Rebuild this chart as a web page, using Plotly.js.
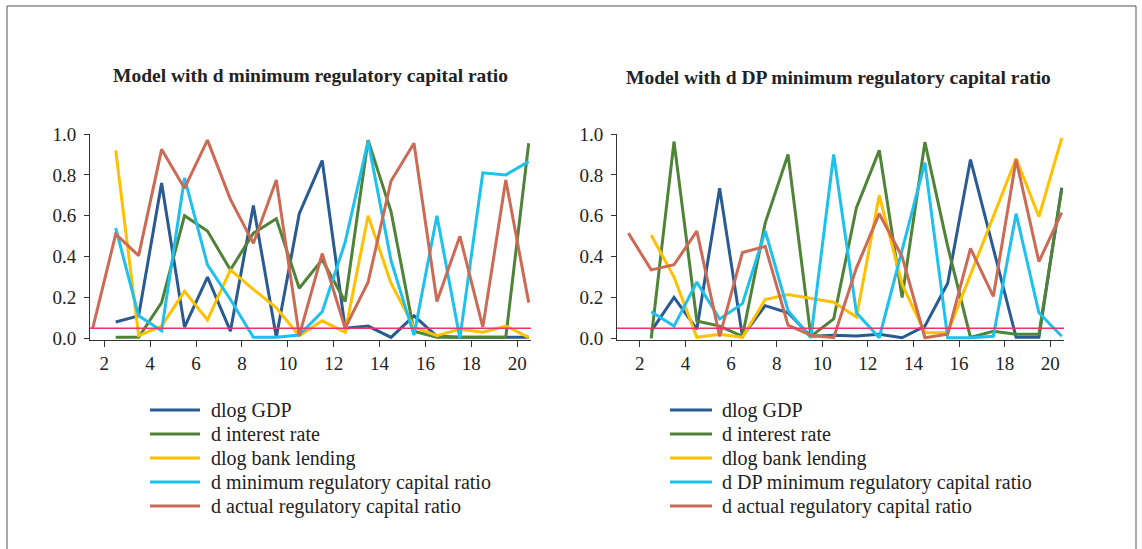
<!DOCTYPE html>
<html>
<head>
<meta charset="utf-8">
<script src="https://cdn.plot.ly/plotly-3.0.1.min.js"></script>
<style>
  html, body { margin: 0; padding: 0; background: #fff; }
  #plot { width: 1142px; height: 549px; }
</style>
</head>
<body>
<div id="plot"></div>
<script>
  // --- data: period positions and series values ---
  const periods = [1.5, 2.5, 3.5, 4.5, 5.5, 6.5, 7.5, 8.5, 9.5, 10.5,
                   11.5, 12.5, 13.5, 14.5, 15.5, 16.5, 17.5, 18.5, 19.5, 20.5];
  const xTicks = [2, 4, 6, 8, 10, 12, 14, 16, 18, 20];
  const threshold = 0.05;

  const seriesNames = ['dlog GDP', 'd interest rate', 'dlog bank lending',
                       'd minimum regulatory capital ratio', 'd actual regulatory capital ratio'];
  const seriesNamesRight = ['dlog GDP', 'd interest rate', 'dlog bank lending',
                            'd DP minimum regulatory capital ratio', 'd actual regulatory capital ratio'];

  // left panel: model with d minimum regulatory capital ratio (null = no value in period)
  const leftGdp      = [null, 0.08, 0.11, 0.76, 0.055, 0.30, 0.035, 0.65, 0.005, 0.61,
                        0.87, 0.05, 0.06, 0.005, 0.11, 0.01, 0.005, 0.005, 0.005, 0.005];
  const leftRate     = [null, 0.005, 0.005, 0.175, 0.60, 0.525, 0.335, 0.515, 0.585, 0.245,
                        0.385, 0.18, 0.97, 0.62, 0.035, 0.005, 0.005, 0.005, 0.005, 0.955];
  const leftLending  = [null, 0.92, 0.013, 0.06, 0.23, 0.09, 0.335, 0.24, 0.15, 0.013,
                        0.086, 0.03, 0.60, 0.27, 0.055, 0.013, 0.045, 0.03, 0.06, 0.005];
  const leftMinRatio = [null, 0.54, 0.11, 0.037, 0.785, 0.36, 0.19, 0.005, 0.005, 0.016,
                        0.13, 0.47, 0.965, 0.38, 0.016, 0.60, 0.0, 0.81, 0.80, 0.865];
  const leftActual   = [0.05, 0.51, 0.405, 0.925, 0.735, 0.97, 0.68, 0.465, 0.775, 0.013,
                        0.415, 0.05, 0.275, 0.77, 0.955, 0.18, 0.50, 0.055, 0.775, 0.175];

  // right panel: model with d DP minimum regulatory capital ratio
  const rightGdp      = [null, 0.035, 0.20, 0.045, 0.735, 0.01, 0.16, 0.125, 0.01, 0.015,
                         0.012, 0.02, 0.003, 0.06, 0.27, 0.875, 0.44, 0.005, 0.005, 0.737];
  const rightRate     = [null, 0.0, 0.963, 0.085, 0.06, 0.01, 0.565, 0.90, 0.01, 0.095,
                         0.64, 0.92, 0.20, 0.96, 0.45, 0.005, 0.035, 0.02, 0.02, 0.73];
  const rightLending  = [null, 0.505, 0.30, 0.005, 0.02, 0.005, 0.19, 0.215, 0.195, 0.177,
                         0.105, 0.70, 0.265, 0.028, 0.028, 0.31, 0.60, 0.88, 0.595, 0.98];
  const rightDpRatio  = [null, 0.13, 0.06, 0.275, 0.095, 0.17, 0.525, 0.135, 0.003, 0.90,
                         0.125, 0.003, 0.43, 0.86, 0.003, 0.003, 0.01, 0.61, 0.125, 0.01];
  const rightActual   = [0.515, 0.335, 0.36, 0.525, 0.01, 0.42, 0.45, 0.065, 0.015, 0.003,
                         0.345, 0.61, 0.40, 0.003, 0.02, 0.44, 0.205, 0.875, 0.375, 0.615];

  const colors = ['#2a5a92', '#4f8338', '#ffc000', '#1ec0ee', '#cc6b55'];
  const serif = "'Liberation Serif', 'Times New Roman', serif";

  function panel(values, names, xa, ya) {
    return values.map((v, i) => ({
      x: periods, y: v, xaxis: xa, yaxis: ya,
      type: 'scatter', mode: 'lines', name: names[i], showlegend: false,
      line: { color: colors[i], width: 3 }, connectgaps: false
    }));
  }

  const traces = [
    ...panel([leftGdp, leftRate, leftLending, leftMinRatio, leftActual], seriesNames, 'x', 'y'),
    ...panel([rightGdp, rightRate, rightLending, rightDpRatio, rightActual], seriesNamesRight, 'x2', 'y2')
  ];

  const W = 1142, H = 549;
  const xAxisBase = {
    tickvals: xTicks, ticks: 'outside', ticklen: 6, tickcolor: '#333',
    showline: true, linecolor: '#333', linewidth: 1, showgrid: false, zeroline: false,
    tickfont: { family: serif, size: 19, color: '#222' }
  };
  const yAxisBase = {
    range: [-0.008, 1.0], dtick: 0.2, tick0: 0, tickformat: '.1f',
    ticks: 'outside', ticklen: 5, tickcolor: '#333',
    showline: true, linecolor: '#333', linewidth: 1, showgrid: false, zeroline: false,
    tickfont: { family: serif, size: 19, color: '#222' }, ticklabelstandoff: 4
  };
  const yDomain = [(H - 340) / H, (H - 134) / H];

  // legends drawn by hand so sample length and row pitch follow the reference
  const legendRows = [410, 434, 458, 482, 506];
  const legendSpots = [
    { names: seriesNames, x0: 150, x1: 200, tx: 209 },
    { names: seriesNamesRight, x0: 670, x1: 712, tx: 720 }
  ];
  const legendShapes = [], legendNotes = [];
  legendSpots.forEach(spot => {
    spot.names.forEach((name, i) => {
      const yy = 1 - legendRows[i] / H;
      legendShapes.push({ type: 'line', xref: 'paper', yref: 'paper',
        x0: spot.x0 / W, x1: spot.x1 / W, y0: yy, y1: yy,
        line: { color: colors[i], width: 3 } });
      legendNotes.push({ text: name, xref: 'paper', yref: 'paper', x: spot.tx / W, y: yy,
        xanchor: 'left', yanchor: 'middle', showarrow: false,
        font: { family: serif, size: 20, color: '#222' } });
    });
  });

  const layout = {
    width: W, height: H,
    margin: { l: 0, r: 0, t: 0, b: 0 },
    paper_bgcolor: '#fff', plot_bgcolor: '#fff',
    showlegend: false,
    xaxis: Object.assign({}, xAxisBase, { domain: [90 / W, 531 / W], range: [1.38, 20.6], anchor: 'y' }),
    yaxis: Object.assign({}, yAxisBase, { domain: yDomain, anchor: 'x' }),
    xaxis2: Object.assign({}, xAxisBase, { domain: [617 / W, 1064 / W], range: [1.0, 20.6], anchor: 'y2' }),
    yaxis2: Object.assign({}, yAxisBase, { domain: yDomain, anchor: 'x2' }),
    annotations: [
      { text: 'Model with d minimum regulatory capital ratio', xref: 'paper', yref: 'paper',
        x: 310 / W, y: 1 - 76 / H, xanchor: 'center', yanchor: 'middle', showarrow: false,
        font: { family: serif, size: 19.5, color: '#222', weight: 'bold' } },
      { text: 'Model with d DP minimum regulatory capital ratio', xref: 'paper', yref: 'paper',
        x: 838 / W, y: 1 - 78 / H, xanchor: 'center', yanchor: 'middle', showarrow: false,
        font: { family: serif, size: 19.5, color: '#222', weight: 'bold' } },
      ...legendNotes
    ],
    shapes: [
      { type: 'line', xref: 'x domain', yref: 'y', x0: 0, x1: 1, y0: threshold, y1: threshold,
        line: { color: '#e8336b', width: 1.5 } },
      { type: 'line', xref: 'x2 domain', yref: 'y2', x0: 0, x1: 1, y0: threshold, y1: threshold,
        line: { color: '#e8336b', width: 1.5 } },
      { type: 'rect', xref: 'paper', yref: 'paper', x0: 7 / W, x1: 1136 / W, y0: -0.05, y1: 1 - 6 / H,
        line: { color: '#555', width: 1 }, layer: 'below' },
      ...legendShapes
    ]
  };

  Plotly.newPlot('plot', traces, layout, { displayModeBar: false, staticPlot: true });
</script>
</body>
</html>
